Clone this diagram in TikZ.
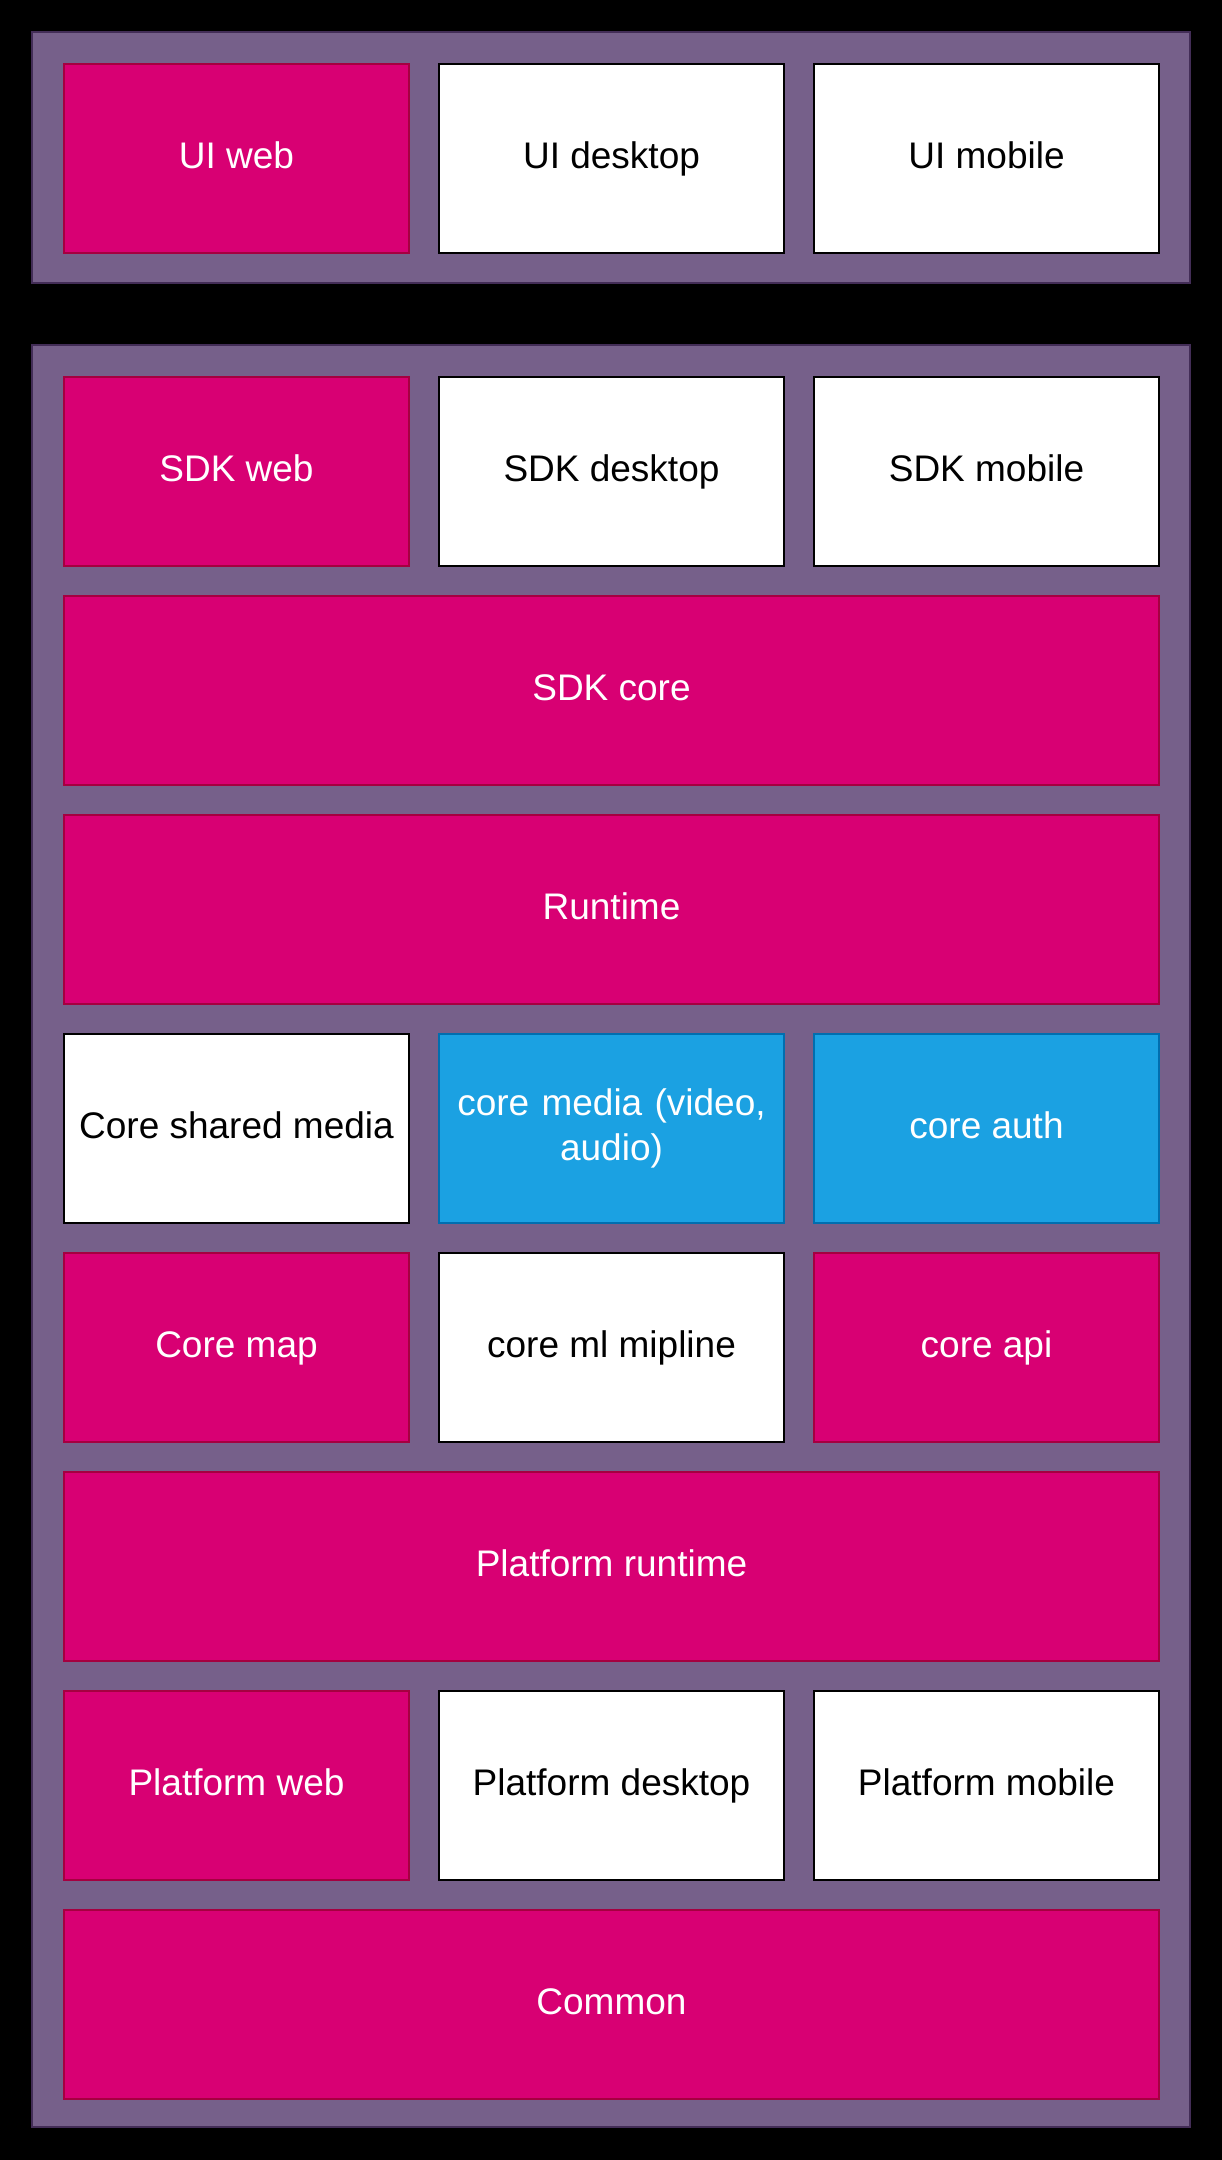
\documentclass[tikz,border=0pt]{standalone}
\usepackage{fontspec}
\setmainfont{Liberation Sans}
\definecolor{purplefill}{HTML}{76608A}
\definecolor{purpleline}{HTML}{432D57}
\definecolor{magfill}{HTML}{D80073}
\definecolor{magline}{HTML}{A50040}
\definecolor{bluefill}{HTML}{1BA1E2}
\definecolor{blueline}{HTML}{006EAF}
\begin{document}
\begin{tikzpicture}[x=1pt,y=-1pt,
  box/.style={rectangle, anchor=north west, inner sep=0pt, line width=2pt,
    minimum height=189pt, text height=27pt, text depth=8pt,
    font=\fontsize{37}{45}\selectfont},
  third/.style={box, minimum width=345pt},
  full/.style={box, minimum width=1095pt},
  twoline/.style={text height=, text depth=, align=center, text width=330pt},
  mag/.style={fill=magfill, draw=magline, text=white},
  wht/.style={fill=white, draw=black, text=black},
  blu/.style={fill=bluefill, draw=blueline, text=white},
  container/.style={fill=purplefill, draw=purpleline, line width=2pt}]
\fill[black] (0,0) rectangle (1222,2160);
\useasboundingbox (0,0) rectangle (1222,2160);
% containers
\draw[container] (32,32) rectangle (1190,283);
\draw[container] (32,345) rectangle (1190,2127);
% top group
\node[third,mag] (uiweb) at (63,63) {UI web};
\node[third,wht] (uidesk) at (438,63) {UI desktop};
\node[third,wht] (uimob) at (813,63) {UI mobile};
% lower group
\node[third,mag] (sdkweb) at (63,376) {SDK web};
\node[third,wht] (sdkdesk) at (438,376) {SDK desktop};
\node[third,wht] (sdkmob) at (813,376) {SDK mobile};
\node[full,mag] (sdkcore) at (63,595) {SDK core};
\node[full,mag] (runtime) at (63,814) {Runtime};
\node[third,wht] (coreshared) at (63,1033) {Core shared media};
\node[third,blu,twoline] (coremedia) at (438,1033) {core media (video,\\audio)};
\node[third,blu] (coreauth) at (813,1033) {core auth};
\node[third,mag] (coremap) at (63,1252) {Core map};
\node[third,wht] (coreml) at (438,1252) {core ml mipline};
\node[third,mag] (coreapi) at (813,1252) {core api};
\node[full,mag] (platrt) at (63,1471) {Platform runtime};
\node[third,mag] (platweb) at (63,1690) {Platform web};
\node[third,wht] (platdesk) at (438,1690) {Platform desktop};
\node[third,wht] (platmob) at (813,1690) {Platform mobile};
\node[full,mag] (common) at (63,1909) {Common};
\end{tikzpicture}
\end{document}
